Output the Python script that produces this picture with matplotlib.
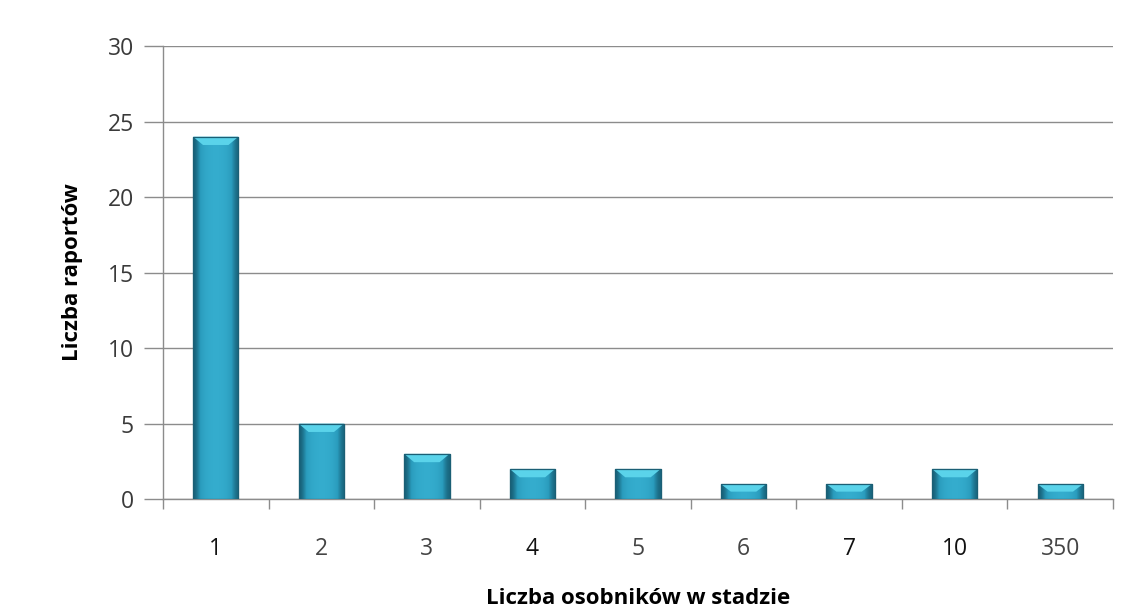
import matplotlib.pyplot as plt
import numpy as np
from matplotlib.patches import Polygon

categories = ["1", "2", "3", "4", "5", "6", "7", "10", "350"]
reports = [24, 5, 3, 2, 2, 1, 1, 2, 1]
dark_labels = {"1", "4", "7", "10"}

plt.rcParams['font.family'] = ['Open Sans', 'DejaVu Sans']

fig = plt.figure(figsize=(11.27, 6.14), dpi=100)
ax = fig.add_axes([0.1446, 0.187, 0.843, 0.738])

x = np.arange(len(categories))
bars = ax.bar(x, reports, width=0.43, color='#2b9bbd', edgecolor='#1b5f75',
              linewidth=0.8, zorder=3)

# horizontal shading inside each bar + light bevel on top
shade = np.array([0.0, 0.55, 0.8, 0.9, 0.95, 0.9, 0.8, 0.55, 0.05])
cmap = plt.matplotlib.colors.LinearSegmentedColormap.from_list(
    'bar', ['#175f76', '#2a9cbd', '#36afd0'])
for b in bars:
    x0, w, h = b.get_x(), b.get_width(), b.get_height()
    im = ax.imshow(shade[np.newaxis, :], cmap=cmap, vmin=0, vmax=1, aspect='auto',
                   extent=(x0, x0 + w, 0, h), zorder=3.1, interpolation='bicubic')
    im.set_clip_path(b)
    bev = min(0.55, h * 0.5)
    top = Polygon([(x0, h), (x0 + w, h), (x0 + w - w * 0.22, h - bev),
                   (x0 + w * 0.22, h - bev)], closed=True,
                  facecolor='#5ad3ea', edgecolor='none', zorder=3.2)
    ax.add_patch(top)
    ax.add_patch(plt.Rectangle((x0, 0), w, h, fill=False, edgecolor='#1b5f75',
                               linewidth=0.9, zorder=3.3))

ax.set_xlim(-0.5, len(categories) - 0.5)
ax.set_ylim(0, 30)
ax.set_yticks(range(0, 31, 5))
ax.yaxis.grid(True, color='#8c8c8c', linewidth=1.0, zorder=0)
ax.set_axisbelow(True)

ax.set_xticks(x)
ax.set_xticklabels(categories)
for lbl in ax.get_xticklabels():
    lbl.set_color('#111111' if lbl.get_text() in dark_labels else '#444444')
ax.set_xticks(np.arange(-0.5, len(categories)), minor=True)
ax.tick_params(axis='x', which='major', length=0, pad=27, labelsize=16.5)
ax.tick_params(axis='x', which='minor', length=7, width=1, color='#8c8c8c',
               direction='out')
ax.tick_params(axis='y', length=14, width=1, color='#8c8c8c', direction='out',
               pad=7, labelsize=16.5, labelcolor='#3a3a3a')

for side in ['top', 'right']:
    ax.spines[side].set_visible(False)
for side in ['left', 'bottom']:
    ax.spines[side].set_color('#8c8c8c')
    ax.spines[side].set_linewidth(1.0)

ax.set_xlabel("Liczba osobników w stadzie", fontsize=16, fontweight='bold',
              labelpad=20)
ax.set_ylabel("Liczba raportów", fontsize=16, fontweight='bold', labelpad=18)

fig.savefig("out.png", dpi=100)
